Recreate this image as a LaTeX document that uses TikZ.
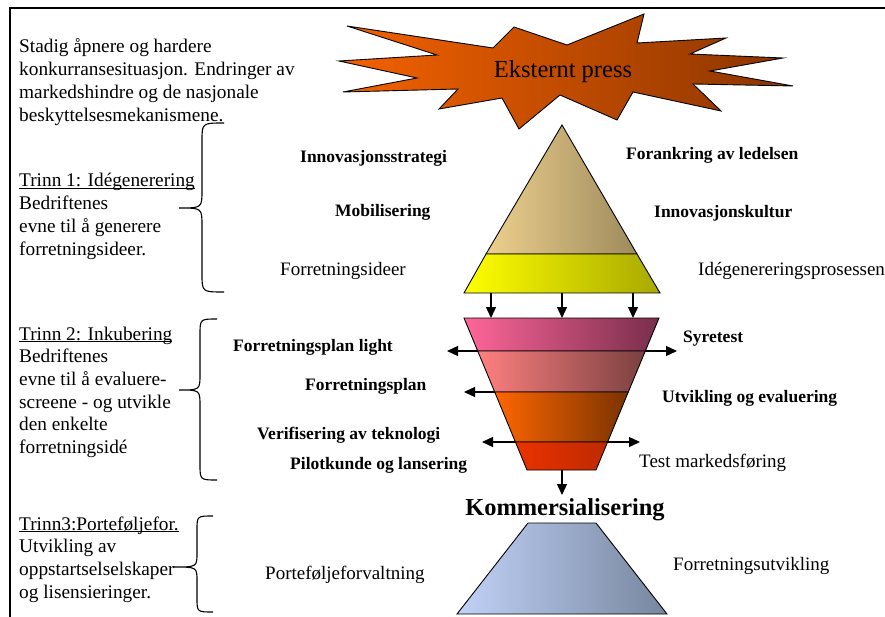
\documentclass[tikz,border=0pt]{standalone}
\usepackage{fontspec}
\setmainfont{Liberation Serif}
\usetikzlibrary{arrows.meta}
\definecolor{starL}{HTML}{F56200}
\definecolor{starR}{HTML}{8A3400}
\definecolor{tanL}{HTML}{EDD08E}
\definecolor{tanR}{HTML}{9E8A5C}
\definecolor{yelL}{HTML}{FFFF00}
\definecolor{yelR}{HTML}{A8A800}
\definecolor{b1L}{HTML}{FF6699}
\definecolor{b1R}{HTML}{782E4C}
\definecolor{b2L}{HTML}{FF8080}
\definecolor{b2R}{HTML}{7A4040}
\definecolor{b3L}{HTML}{FF6600}
\definecolor{b3R}{HTML}{7A3300}
\definecolor{b4L}{HTML}{EA3200}
\definecolor{b4R}{HTML}{BE2A00}
\definecolor{blL}{HTML}{C2D2F8}
\definecolor{blR}{HTML}{76869E}
\newcommand\myul[1]{\setbox0\hbox{#1}\rlap{\rule[-2.2pt]{\wd0}{0.9pt}}\box0}
\begin{document}
\begin{tikzpicture}[x=1pt,y=-1pt,
  lbl/.style={font=\fontsize{19}{22}\selectfont, anchor=base west, inner sep=0pt},
  blbl/.style={font=\fontsize{17.5}{21}\selectfont\bfseries, anchor=base west, inner sep=0pt},
  para/.style={font=\fontsize{19.3}{22.7}\selectfont, anchor=base west, inner sep=0pt},
  outl/.style={draw=black, line width=0.9pt, line join=miter},
  arr/.style={line width=1.3pt, -{Triangle[length=11pt,width=10pt]}},
  darr/.style={line width=1.3pt, {Triangle[length=11pt,width=10pt]}-{Triangle[length=11pt,width=10pt]}},
  bracel/.style={line width=1.1pt}]
\useasboundingbox (0,0) rectangle (885,617);
% frame
\draw[line width=2pt] (10,617) -- (10,8) -- (885,8);
% star
\draw[outl, left color=starL, right color=starR]
  (347,26) -- (493,48) -- (514,27) -- (567,45) -- (644,14) -- (637,43)
  -- (726,38) -- (690,54) -- (783,58) -- (710,71) -- (793,86) -- (693,84)
  -- (721,111) -- (633,92) -- (617,120) -- (560,95) -- (519,129) -- (502,98)
  -- (439,109) -- (458,89) -- (343,92) -- (417,78) -- (339,61) -- (437,55) -- cycle;
\node[font=\fontsize{24.5}{28}\selectfont, anchor=base, inner sep=0pt] (press) at (563,78) {Eksternt press};
% left texts
\node[para] (intro) at (19,53) {\vtop{\baselineskip=23pt\hbox{Stadig åpnere og hardere}\hbox{konkurransesituasjon. Endringer av}\hbox{markedshindre og de nasjonale}\hbox{beskyttelsesmekanismene.}}};
\node[para] (t1) at (19,187) {\vtop{\baselineskip=22.7pt\hbox{\myul{Trinn 1: Idégenerering}}\hbox{Bedriftenes}\hbox{evne til å generere}\hbox{forretningsideer.}}};
\node[para] (t2) at (19,340) {\vtop{\baselineskip=22.7pt\hbox{\myul{Trinn 2: Inkubering}}\hbox{Bedriftenes}\hbox{evne til å evaluere-}\hbox{screene - og utvikle}\hbox{den enkelte}\hbox{forretningsidé}}};
\node[para] (t3) at (19,530) {\vtop{\baselineskip=22.7pt\hbox{\myul{Trinn3:Porteføljefor.}}\hbox{Utvikling av}\hbox{oppstartselselskaper}\hbox{og lisensieringer.}}};
% braces
\draw[bracel] (224,123) .. controls (202,123) .. (202,141) -- (202,190) .. controls (202,208) .. (179,208) .. controls (202,208) .. (202,226) -- (202,274) .. controls (202,292) .. (224,292);
\draw[bracel] (217,319) .. controls (200,319) .. (200,335) -- (200,374) .. controls (200,390) .. (179,390) .. controls (200,390) .. (200,406) -- (200,464) .. controls (200,480) .. (217,480);
\draw[bracel] (213,516) .. controls (197,516) .. (197,530) -- (197,553) .. controls (197,567) .. (173,567) .. controls (197,567) .. (197,581) -- (197,598) .. controls (197,612) .. (213,612);
% arrows behind funnel
\coordinate (a1l) at (447,351); \coordinate (a1r) at (677,351);
\coordinate (a2s) at (500,392); \coordinate (a2e) at (464,392);
\coordinate (a3l) at (482,442); \coordinate (a3r) at (640,442);
\draw[darr] (a1l) -- (a1r);
\draw[arr] (a2s) -- (a2e);
\draw[darr] (a3l) -- (a3r);
% pyramid
\coordinate (apex) at (562,125);
\coordinate (pl) at (486,254); \coordinate (pr) at (637,254);
\coordinate (bl) at (464,293); \coordinate (br) at (660,293);
\draw[outl, left color=tanL, right color=tanR] (apex) -- (pr) -- (pl) -- cycle;
\draw[outl, left color=yelL, right color=yelR] (pl) -- (pr) -- (br) -- (bl) -- cycle;
% funnel
\coordinate (f0l) at (464,318); \coordinate (f0r) at (659,318);
\coordinate (f1l) at (477.7,351); \coordinate (f1r) at (645.3,351);
\coordinate (f2l) at (494.7,392); \coordinate (f2r) at (628.3,392);
\coordinate (f3l) at (515.4,442); \coordinate (f3r) at (607.6,442);
\coordinate (f4l) at (527,470); \coordinate (f4r) at (596,470);
\draw[outl, left color=b1L, right color=b1R] (f0l) -- (f0r) -- (f1r) -- (f1l) -- cycle;
\draw[outl, left color=b2L, right color=b2R] (f1l) -- (f1r) -- (f2r) -- (f2l) -- cycle;
\draw[outl, left color=b3L, right color=b3R] (f2l) -- (f2r) -- (f3r) -- (f3l) -- cycle;
\draw[outl, left color=b4L, right color=b4R] (f3l) -- (f3r) -- (f4r) -- (f4l) -- cycle;
% arrows pyramid -> funnel
\coordinate (d1s) at (491,293); \coordinate (d1e) at (491,318);
\coordinate (d2s) at (562,293); \coordinate (d2e) at (562,318);
\coordinate (d3s) at (633,293); \coordinate (d3e) at (633,318);
\draw[arr] (d1s) -- (d1e);
\draw[arr] (d2s) -- (d2e);
\draw[arr] (d3s) -- (d3e);
% arrow funnel -> kommersialisering
\coordinate (k1) at (562,470); \coordinate (k2) at (562,495);
\draw[arr] (k1) -- (k2);
\node[font=\fontsize{24.4}{28}\selectfont\bfseries, anchor=base, inner sep=0pt] (komm) at (565,515) {Kommersialisering};
% bottom trapezoid
\draw[outl, left color=blL, right color=blR] (528,523) -- (596,523) -- (667,614) -- (457,614) -- cycle;
% labels
\node[blbl] (l1) at (300,163) {Innovasjonsstrategi};
\node[blbl] (l2) at (626,160) {Forankring av ledelsen};
\node[blbl] (l3) at (335,217) {Mobilisering};
\node[blbl] (l4) at (654,218) {Innovasjonskultur};
\node[lbl] (l5) at (280,276) {Forretningsideer};
\node[lbl] (l6) at (698,276) {Idégenereringsprosessen};
\node[blbl] (l7) at (233,351) {Forretningsplan light};
\node[blbl] (l8) at (683,342) {Syretest};
\node[blbl] (l9) at (305,390) {Forretningsplan};
\node[blbl] (l10) at (662,402) {Utvikling og evaluering};
\node[blbl] (l11) at (257,439) {Verifisering av teknologi};
\node[blbl] (l12) at (290,469) {Pilotkunde og lansering};
\node[lbl] (l13) at (639,467) {Test markedsføring};
\node[lbl] (l14) at (265,579) {Porteføljeforvaltning};
\node[lbl] (l15) at (673,570) {Forretningsutvikling};
\end{tikzpicture}
\end{document}
